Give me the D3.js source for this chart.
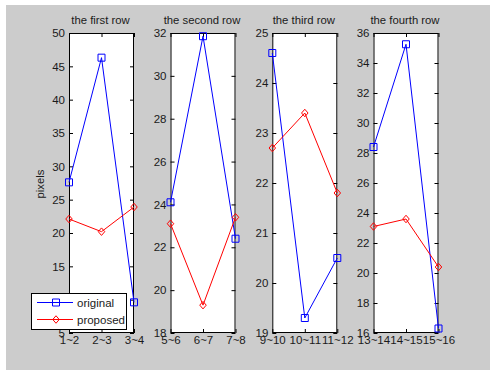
<!DOCTYPE html>
<html>
<head>
<meta charset="utf-8">
<script src="https://cdn.jsdelivr.net/npm/d3@7"></script>
<style>
  html, body { margin: 0; padding: 0; background: #ffffff; }
  svg { display: block; }
  text { font-family: "Liberation Sans", Arial, sans-serif; fill: #1a1a1a; }
</style>
</head>
<body>
<script>
// Four small panels: pixel counts per row, original vs proposed
const titles = ["the first row", "the second row", "the third row", "the fourth row"];
const categories = [
  ["1~2", "2~3", "3~4"],
  ["5~6", "6~7", "7~8"],
  ["9~10", "10~11", "11~12"],
  ["13~14", "14~15", "15~16"]
];
const original = [
  [27.6, 46.3, 9.6],
  [24.1, 31.85, 22.4],
  [24.6, 19.3, 20.5],
  [28.4, 35.25, 16.3]
];
const proposed = [
  [22.1, 20.2, 23.9],
  [23.1, 19.3, 23.4],
  [22.7, 23.4, 21.8],
  [23.1, 23.6, 20.4]
];
const yDomains = [[5, 50], [18, 32], [19, 25], [16, 36]];
const yTickSteps = [5, 2, 1, 2];
const seriesNames = ["original", "proposed"];
const seriesColors = ["#0000ff", "#ff0000"];

const W = 490, H = 372;
const svg = d3.select("body").append("svg").attr("width", W).attr("height", H);

// figure background
svg.append("rect").attr("x", 6).attr("y", 5).attr("width", W - 6).attr("height", 365)
  .attr("fill", "#cccccc");

const panelLefts = [69, 170.5, 272.3, 373.5];
const panelW = 65;
const plotTop = 33, plotBottom = 333;
const tickLen = 4;

function squarePath(s) {
  const h = s / 2;
  return `M${-h},${-h}H${h}V${h}H${-h}Z`;
}
function diamondPath(w, h) {
  return `M0,${-h / 2}L${w / 2},0L0,${h / 2}L${-w / 2},0Z`;
}
const markers = [squarePath(7), diamondPath(6.5, 7.5)];

panelLefts.forEach((left, i) => {
  const x = d3.scalePoint().domain(categories[i]).range([left, left + panelW]).padding(0);
  const [y0, y1] = yDomains[i];
  const y = d3.scaleLinear().domain([y0, y1]).range([plotBottom, plotTop]);
  const ticks = d3.range(y0, y1 + 1e-9, yTickSteps[i]);

  const g = svg.append("g");
  g.append("rect").attr("x", left).attr("y", plotTop).attr("width", panelW).attr("height", plotBottom - plotTop)
    .attr("fill", "#ffffff");

  const styleAxis = sel => {
    sel.select(".domain").remove();
    sel.selectAll(".tick line").attr("stroke", "#000").attr("stroke-width", 1);
    sel.selectAll(".tick text").style("font-size", "11.5px").attr("fill", "#1a1a1a");
  };

  g.append("g").attr("transform", `translate(${left},0)`)
    .call(d3.axisLeft(y).tickValues(ticks).tickFormat(d3.format("d")).tickSize(-tickLen).tickPadding(4))
    .call(styleAxis);
  g.append("g").attr("transform", `translate(${left + panelW},0)`)
    .call(d3.axisRight(y).tickValues(ticks).tickFormat("").tickSize(-tickLen))
    .call(styleAxis);
  g.append("g").attr("transform", `translate(0,${plotBottom})`)
    .call(d3.axisBottom(x).tickSize(-tickLen).tickPadding(3))
    .call(styleAxis);
  g.append("g").attr("transform", `translate(0,${plotTop})`)
    .call(d3.axisTop(x).tickFormat("").tickSize(-tickLen))
    .call(styleAxis);

  g.append("rect").attr("x", left + 0.5).attr("y", plotTop + 0.5)
    .attr("width", panelW - 1).attr("height", plotBottom - plotTop - 1)
    .attr("fill", "none").attr("stroke", "#000").attr("stroke-width", 1);

  g.append("text").attr("x", left + panelW / 2 - 1).attr("y", 24)
    .attr("text-anchor", "middle").style("font-size", "11.3px").text(titles[i]);

  [original[i], proposed[i]].forEach((vals, s) => {
    const pts = vals.map((v, k) => [x(categories[i][k]), y(v)]);
    g.append("path").attr("d", d3.line()(pts))
      .attr("fill", "none").attr("stroke", seriesColors[s]).attr("stroke-width", 1);
    g.selectAll(null).data(pts).enter().append("path")
      .attr("transform", d => `translate(${d[0]},${d[1]})`)
      .attr("d", markers[s])
      .attr("fill", "none").attr("stroke", seriesColors[s]).attr("stroke-width", 1);
  });
});

// y label
svg.append("text").attr("transform", "translate(44,184) rotate(-90)")
  .attr("text-anchor", "middle").style("font-size", "11.3px").text("pixels");

// legend
const lg = svg.append("g");
lg.append("rect").attr("x", 31.5).attr("y", 293.5).attr("width", 95).attr("height", 36)
  .attr("fill", "#ffffff").attr("stroke", "#000").attr("stroke-width", 1);
seriesNames.forEach((name, s) => {
  const ly = 302.5 + s * 17;
  lg.append("line").attr("x1", 37).attr("x2", 73).attr("y1", ly).attr("y2", ly)
    .attr("stroke", seriesColors[s]).attr("stroke-width", 1);
  lg.append("path").attr("transform", `translate(56,${ly})`).attr("d", markers[s])
    .attr("fill", "none").attr("stroke", seriesColors[s]).attr("stroke-width", 1);
  lg.append("text").attr("x", 77).attr("y", ly + 4).style("font-size", "11.5px").text(name);
});
</script>
</body>
</html>
